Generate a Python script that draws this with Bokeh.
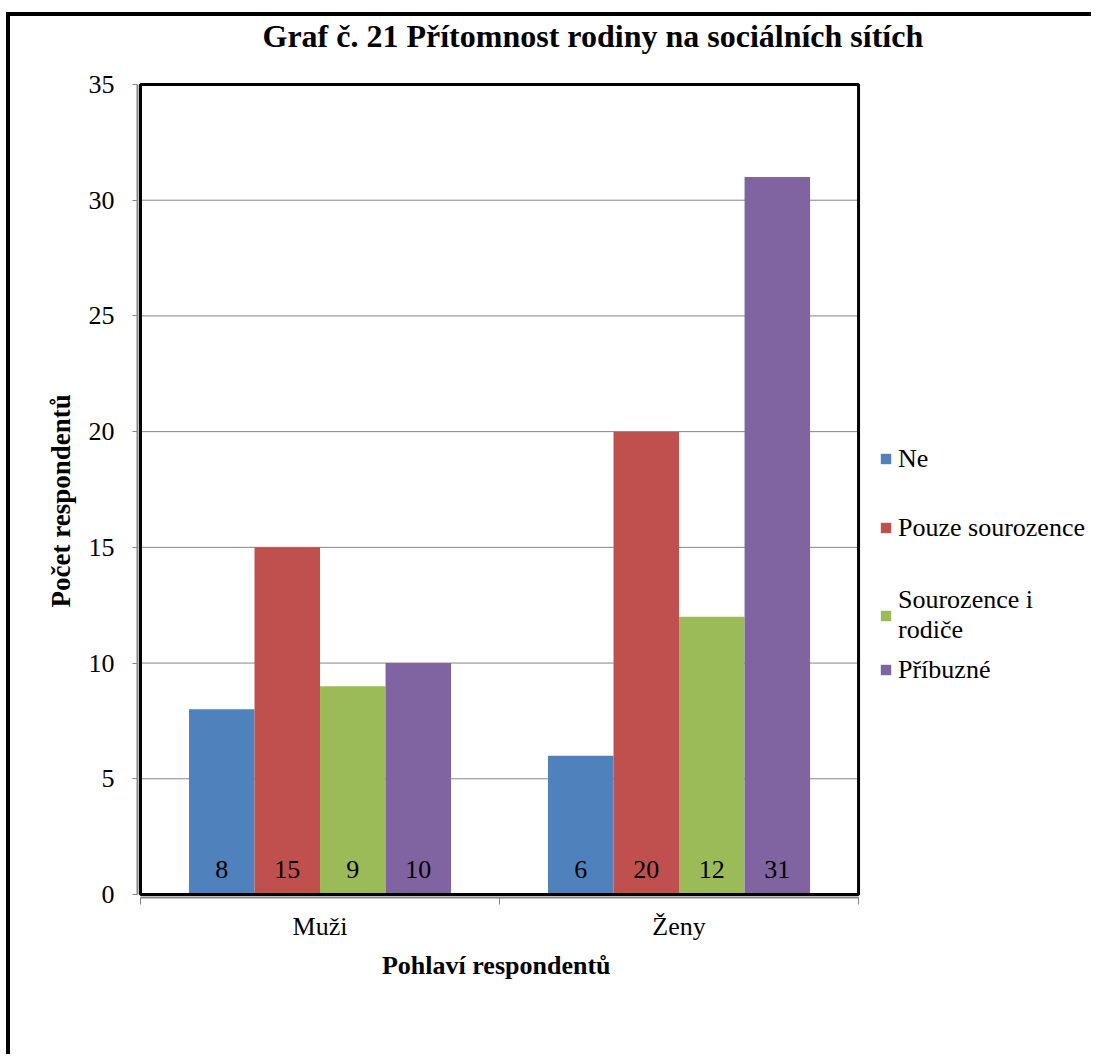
from bokeh.plotting import figure
from bokeh.models import (ColumnDataSource, Range1d, FixedTicker, Legend, LegendItem,
                          Label, LabelSet)
from bokeh.core.properties import value
from bokeh.embed import file_html
from bokeh.resources import INLINE

title_text = "Graf č. 21 Přítomnost rodiny na sociálních sítích"
x_title = "Pohlaví respondentů"
y_title = "Počet respondentů"
categories = ["Muži", "Ženy"]
series = ["Ne", "Pouze sourozence", "Sourozence i\nrodiče", "Příbuzné"]
colors = ["#4F81BD", "#C0504D", "#9BBB59", "#8064A2"]
ne = [8, 6]
pouze = [15, 20]
sour_rod = [9, 12]
pribuzne = [10, 31]
y_ticks = [0, 5, 10, 15, 20, 25, 30, 35]

values = [ne, pouze, sour_rod, pribuzne]
n_cat = len(categories)
y_max = y_ticks[-1]
bar_w = 0.1825
offsets = [-1.5 * bar_w, -0.5 * bar_w, 0.5 * bar_w, 1.5 * bar_w]

FONT = "Liberation Serif"
NBSP = "\u00a0"

# the frame covers the title and legend areas too, so nothing gets clipped;
# axes are bounded to the real plot area
p = figure(width=1085, height=1042, output_backend="svg", toolbar_location=None,
           x_range=Range1d(-0.0084, 2.66), y_range=Range1d(-0.1296, 37.938),
           min_border_left=127, min_border_right=0, min_border_top=0,
           min_border_bottom=161)
p.styles = {"border-left": "4px solid black", "border-top": "4px solid black",
            "margin-left": "6px", "margin-top": "12px"}

p.outline_line_color = None
p.background_fill_color = "white"
p.border_fill_color = "white"
p.xgrid.visible = False
p.ygrid.visible = False

p.add_layout(Label(x=0.3398, y=37.074, text=title_text, text_font=FONT,
                   text_font_size="32px", text_font_style="bold",
                   text_color="black", text_align="left",
                   text_baseline="middle"))

# horizontal grid lines across the plot area only
grid_src = ColumnDataSource(dict(y=y_ticks[1:-1], x0=[0] * (len(y_ticks) - 2),
                                 x1=[n_cat] * (len(y_ticks) - 2)))
p.segment(x0="x0", x1="x1", y0="y", y1="y", source=grid_src,
          line_color="#868686", line_width=1)

renderers = []
for i, (s, vals, c) in enumerate(zip(series, values, colors)):
    src = ColumnDataSource(dict(
        x=[k + 0.5 + offsets[i] for k in range(n_cat)],
        top=vals,
        lbl=[str(v) for v in vals],
        zero=[0] * len(vals)))
    r = p.vbar(x="x", top="top", width=bar_w, bottom=0, source=src,
               fill_color=c, line_color=None)
    renderers.append(r)
    p.add_layout(LabelSet(x="x", y="zero", text="lbl", source=src,
                          y_offset=25, text_align="center",
                          text_baseline="middle", text_font=value(FONT),
                          text_font_size="26px", text_color="black"))

# plot-area border
p.quad(left=[0], right=[n_cat], bottom=[0], top=[y_max], fill_color=None,
       line_color="black", line_width=3)

# y axis (label padded so it is centred on the plot area, not the whole frame)
p.yaxis.bounds = (0, y_max)
p.yaxis.ticker = FixedTicker(ticks=y_ticks)
p.yaxis.axis_line_color = "#868686"
p.yaxis.axis_line_width = 2
p.yaxis.major_tick_line_color = "#868686"
p.yaxis.major_tick_out = 5
p.yaxis.major_tick_in = 0
p.yaxis.minor_tick_line_color = None
p.yaxis.major_label_text_font = FONT
p.yaxis.major_label_text_font_size = "26px"
p.yaxis.major_label_text_color = "black"
p.yaxis.major_label_standoff = 18
p.yaxis.axis_label = y_title + NBSP * 13
p.yaxis.axis_label_text_font = FONT
p.yaxis.axis_label_text_font_size = "27px"
p.yaxis.axis_label_text_font_style = "bold"
p.yaxis.axis_label_text_color = "black"
p.yaxis.axis_label_standoff = 10

# x axis
p.xaxis.bounds = (0, n_cat)
p.xaxis.ticker = FixedTicker(ticks=[k + 0.5 for k in range(n_cat)],
                             minor_ticks=list(range(n_cat + 1)))
p.xaxis.major_label_overrides = {k + 0.5: c for k, c in enumerate(categories)}
p.xaxis.axis_line_color = "#868686"
p.xaxis.axis_line_width = 2
p.xaxis.major_tick_line_color = None
p.xaxis.minor_tick_line_color = "#868686"
p.xaxis.minor_tick_out = 7
p.xaxis.minor_tick_in = 0
p.xaxis.major_label_text_font = FONT
p.xaxis.major_label_text_font_size = "26px"
p.xaxis.major_label_text_color = "black"
p.xaxis.major_label_standoff = 7
p.xaxis.axis_label = x_title + NBSP * 37
p.xaxis.axis_label_text_font = FONT
p.xaxis.axis_label_text_font_size = "26px"
p.xaxis.axis_label_text_font_style = "bold"
p.xaxis.axis_label_text_color = "black"
p.xaxis.axis_label_standoff = 7

# one legend box per entry, placed like the original's legend rows
legend_y = [423, 354, 252, 212]
for s, r, ly in zip(series, renderers, legend_y):
    lg = Legend(items=[LegendItem(label=s, renderers=[r])], location=(742, ly),
                padding=0, margin=0, border_line_color=None,
                background_fill_alpha=0, glyph_width=13, glyph_height=13,
                label_standoff=6, label_text_font=FONT, label_text_color="black",
                label_text_font_size="26px", label_text_line_height=1.23,
                label_height=31, spacing=0)
    p.add_layout(lg, "center")

open("out.html", "w").write(file_html(p, INLINE))
